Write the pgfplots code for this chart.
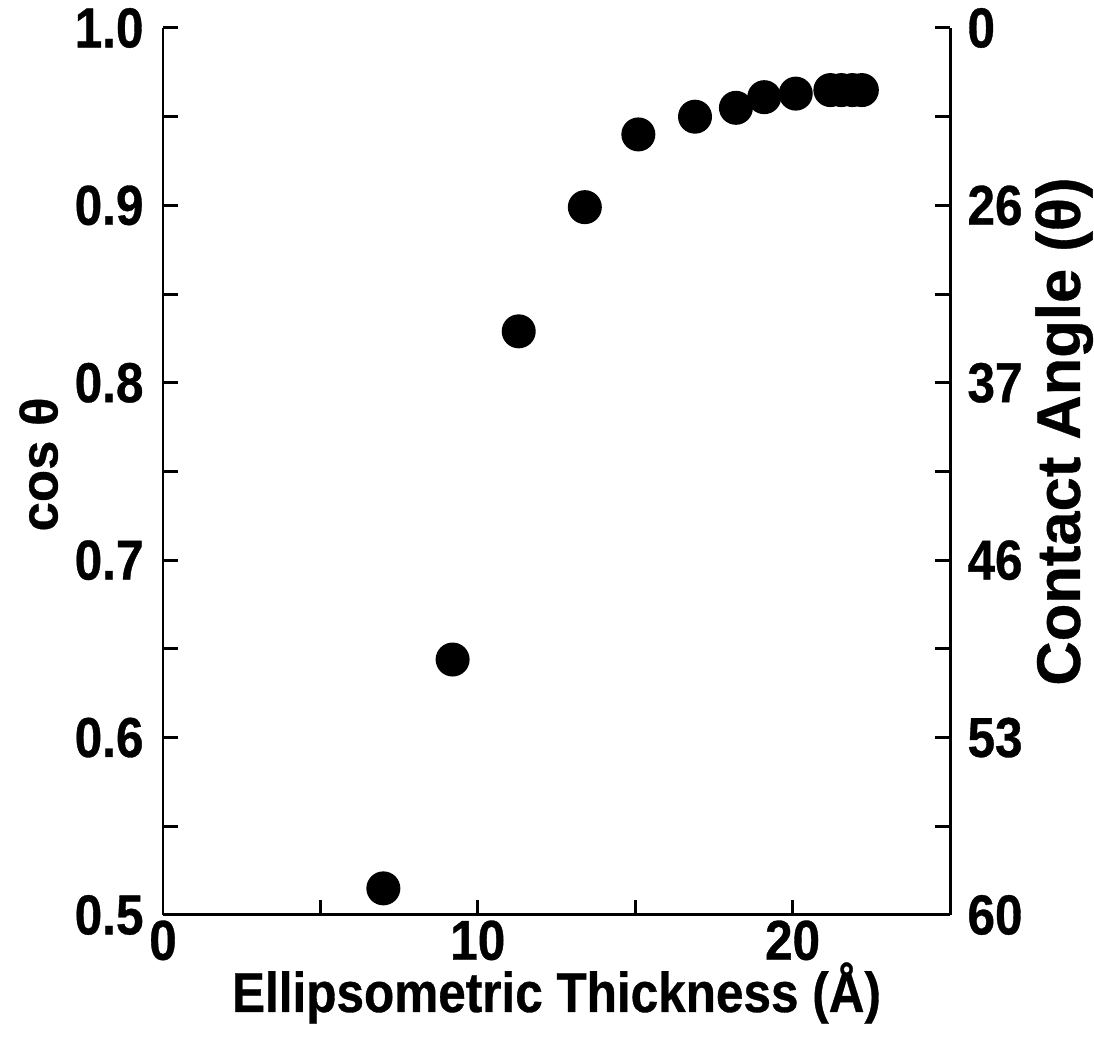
\documentclass[border=0pt]{standalone}
\usepackage{fontspec}
\setmainfont{Liberation Sans}[FakeBold=0.6]
\newfontfamily\condfont{Liberation Sans}[FakeStretch=0.88,FakeBold=0.6]
\usepackage{pgfplots}
\pgfplotsset{compat=1.18}
\begin{document}
\begin{tikzpicture}
\useasboundingbox (-16.3mm,-13.7mm) rectangle (93.1mm,91.5mm);
\pgfplotsset{
  every axis/.append style={
    scale only axis, width=78.7mm, height=88.7mm,
    xmin=0, xmax=25, ymin=0.5, ymax=1.0,
    line width=0.85pt,
    tick align=inside,
    major tick length=1.5mm, minor tick length=1.5mm,
    tick style={line width=0.85pt, black},
    tick label style={font=\condfont\fontsize{16}{18}\selectfont\bfseries},
    /pgf/number format/assume math mode=true,
  }
}
\begin{axis}[
  axis x line*=bottom, axis y line*=left,
  xtick={0,10,20}, minor xtick={5,15},
  ytick={0.5,0.6,0.7,0.8,0.9,1.0},
  minor ytick={0.55,0.65,0.75,0.85,0.95},
  yticklabels={0.5,0.6,0.7,0.8,0.9,1.0},
  xlabel={Ellipsometric Thickness (Å)},
  ylabel={cos θ},
  xlabel style={font=\condfont\fontsize{16}{18}\selectfont\bfseries,
    at={(axis description cs:0.5,-0.088)}, anchor=center},
  ylabel style={font=\fontsize{15}{17}\selectfont\bfseries,
    at={(axis description cs:-0.158,0.508)}, anchor=center},
  xticklabel style={anchor=north, inner sep=0pt, yshift=-0.4mm},
  yticklabel style={anchor=east, inner sep=0pt, xshift=-1.8mm},
]
\addplot[only marks, mark=*, mark size=1.55mm, black] coordinates {
(7.0,0.515) (9.2,0.644) (11.3,0.829) (13.4,0.899) (15.1,0.940)
(16.9,0.950) (18.2,0.955) (19.1,0.961) (20.1,0.963)
(21.2,0.965) (21.55,0.965) (21.9,0.965) (22.2,0.965)
};
\end{axis}
\begin{axis}[
  axis x line=none, axis y line*=right,
  ytick={0.5,0.6,0.7,0.8,0.9,1.0},
  minor ytick={0.55,0.65,0.75,0.85,0.95},
  yticklabels={60,53,46,37,26,0},
  yticklabel style={anchor=west, inner sep=0pt, xshift=1.6mm},
  ylabel={Contact Angle (θ)},
  ylabel style={font=\fontsize{17.5}{19}\selectfont\bfseries,
    at={(axis description cs:1.145,0.545)}, anchor=center},
]
\addplot[draw=none] coordinates {(0,0.5)};
\end{axis}
\end{tikzpicture}
\end{document}
